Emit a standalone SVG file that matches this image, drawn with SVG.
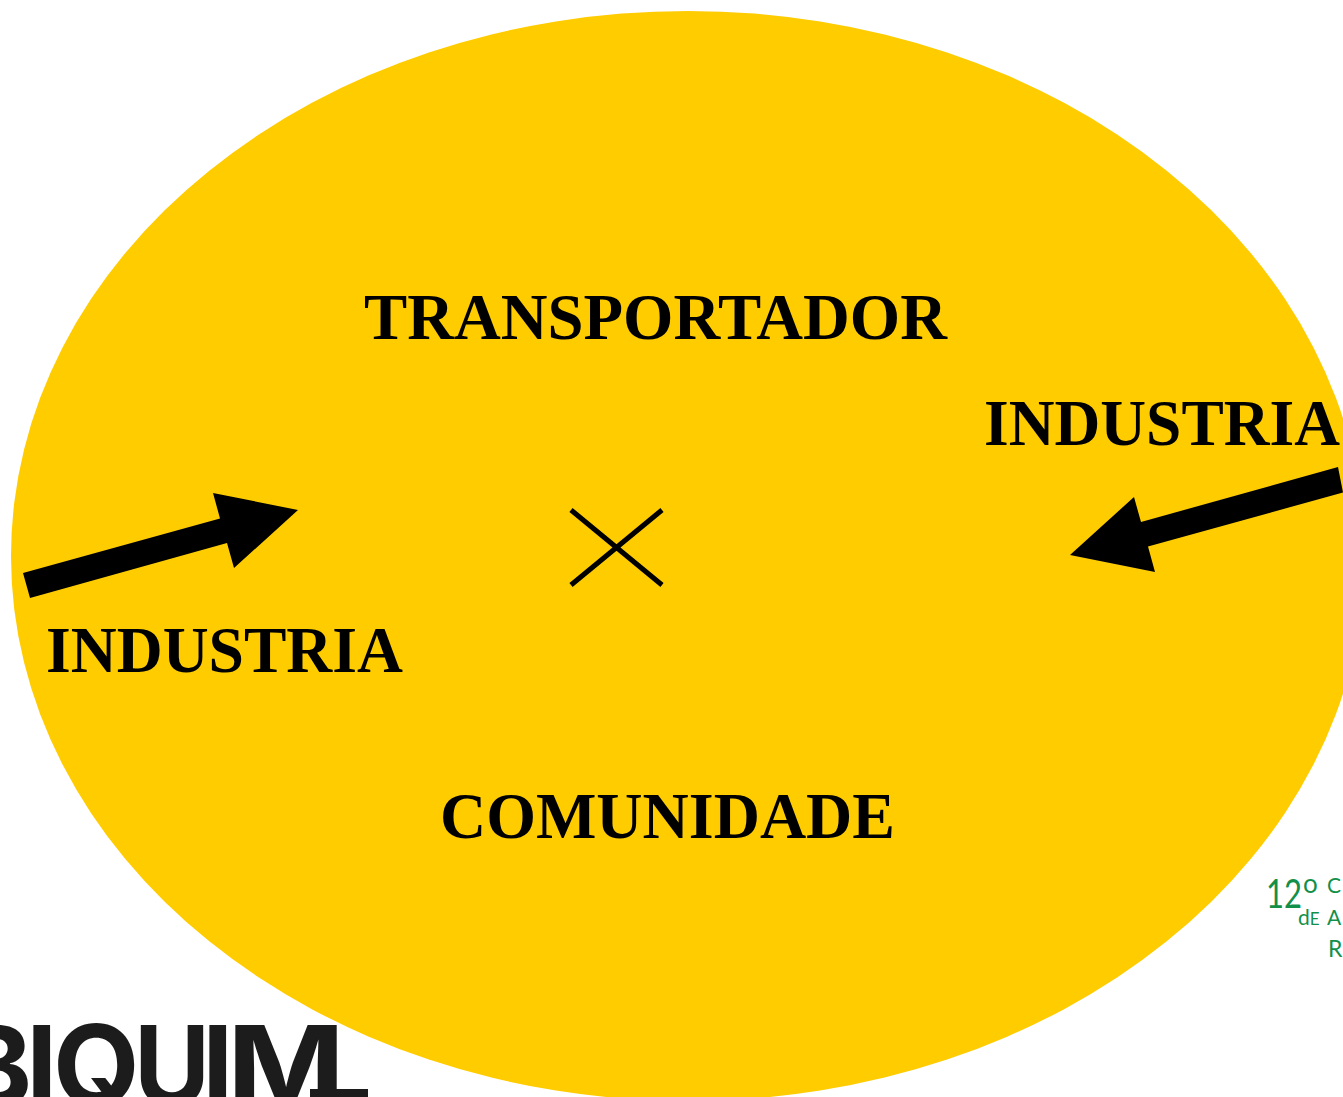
<svg xmlns="http://www.w3.org/2000/svg" width="1343" height="1097" viewBox="0 0 1343 1097">
<style>
.l{font-family:"Liberation Serif","Times New Roman",serif;font-weight:700;font-size:65px;fill:#000}
.g{font-family:"Lato","Noto Sans",sans-serif;fill:#12904a}
.b{font-family:"Inter","Liberation Sans",sans-serif;font-weight:700;fill:#1c1c1c;font-size:112px}
</style>
<rect width="1343" height="1097" fill="#fff"/>
<ellipse id="bg" cx="688" cy="556" rx="677" ry="545" fill="#ffcc00"/>
<g id="logo"><text class="b" y="1106" x="-42 26 53">BIQ</text><text class="b" y="1106" x="134" textLength="76" lengthAdjust="spacingAndGlyphs">U</text><text class="b" y="1106" x="202">I</text><text class="b" y="1106" x="227" textLength="118" lengthAdjust="spacingAndGlyphs">M</text><rect x="310" y="1089" width="58" height="8" fill="#1c1c1c"/></g>
<g id="congress">
<text class="g" x="1266" y="908" font-size="41" textLength="36" lengthAdjust="spacingAndGlyphs">12</text>
<text class="g" x="1303" y="893" font-size="26">o</text>
<text class="g" x="1327" y="893" font-size="21">C</text>
<text class="g" x="1298" y="925" font-size="21">d<tspan font-size="17">E</tspan></text>
<text class="g" x="1327" y="925" font-size="21">A</text>
<text class="g" x="1328" y="957" font-size="23">R</text>
</g>
<g id="connectors">
<polygon points="23,573 220,518.5 213,493 298,510 234,568 227,543 30,598"/>
<polygon points="1343,492.5 1148,546.5 1155,572 1070,555 1134,497 1141,522 1338,467"/>
<path d="M571 510L662 585M662 510L571 585" stroke="#000" stroke-width="5" fill="none"/>
</g>
<g id="transportador"><text class="l" x="364" y="339" textLength="583" lengthAdjust="spacingAndGlyphs">TRANSPORTADOR</text></g>
<g id="industria-right"><text class="l" x="984" y="445" textLength="356" lengthAdjust="spacingAndGlyphs">INDUSTRIA</text></g>
<g id="industria-left"><text class="l" x="46" y="672" textLength="357" lengthAdjust="spacingAndGlyphs">INDUSTRIA</text></g>
<g id="comunidade"><text class="l" x="440" y="838" textLength="455" lengthAdjust="spacingAndGlyphs">COMUNIDADE</text></g>
</svg>
